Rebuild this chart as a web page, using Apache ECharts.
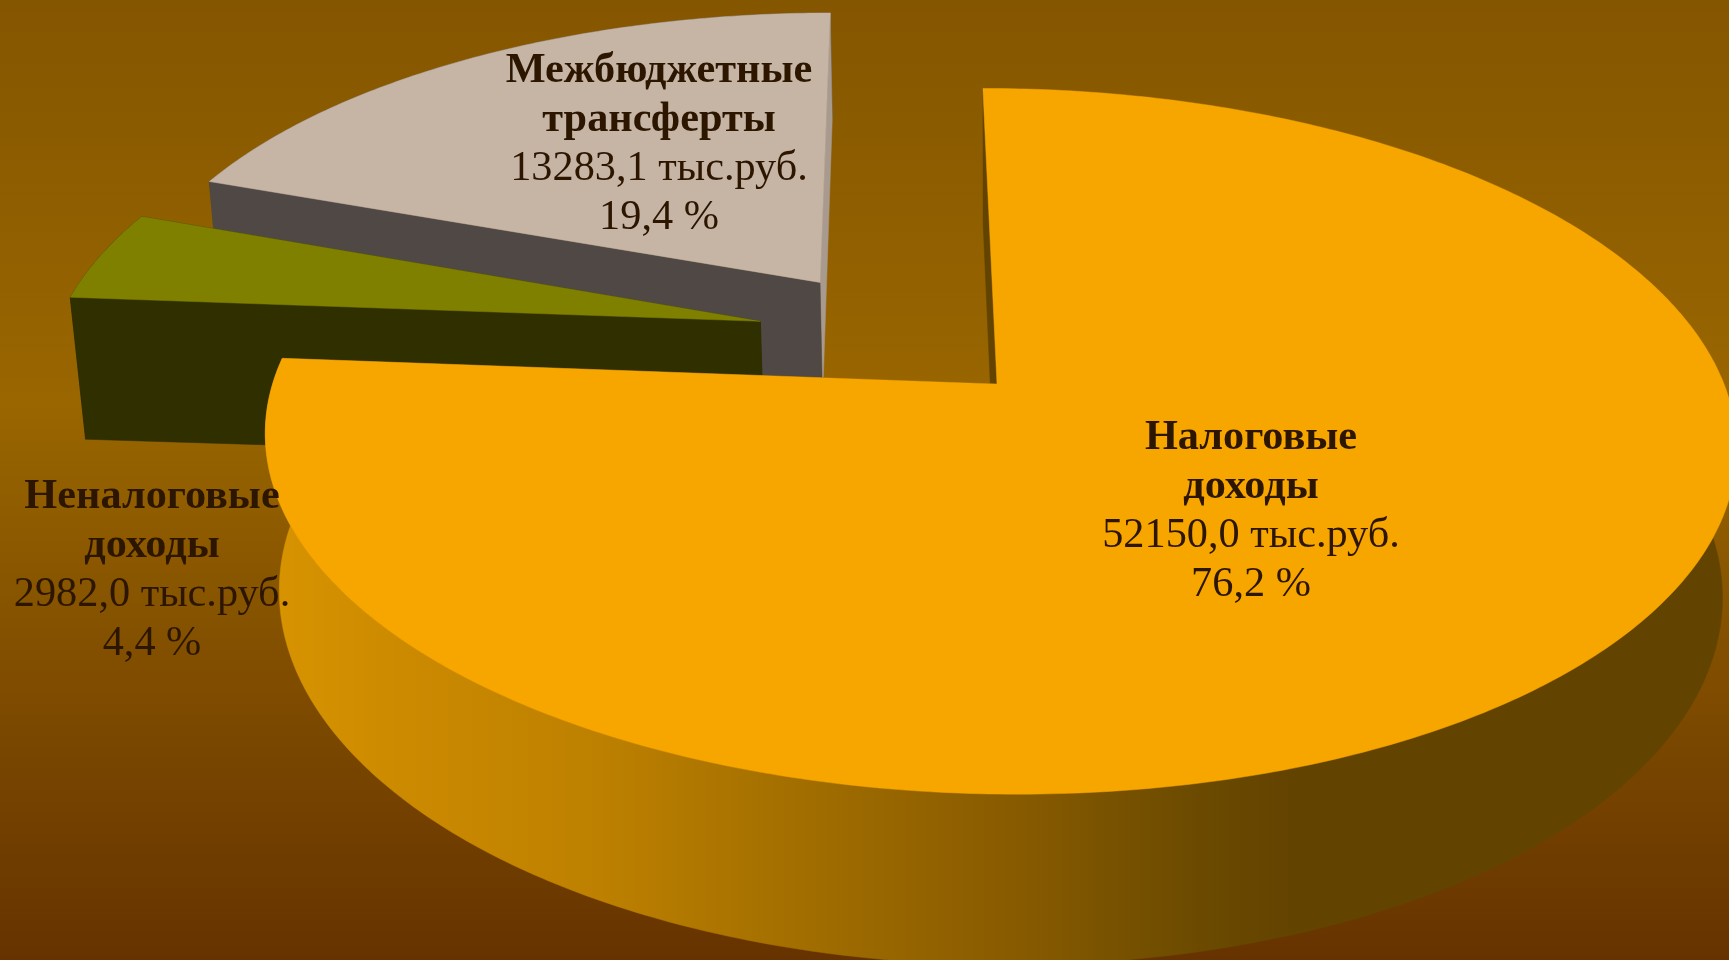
<!DOCTYPE html>
<html><head><meta charset="utf-8">
<style>html,body{margin:0;padding:0;overflow:hidden;background:#855600}#c{width:1729px;height:960px}</style>
<script src="https://cdn.jsdelivr.net/npm/echarts@6/dist/echarts.min.js"></script>
</head><body><div id="c"></div>
<script>
// DATA
const categoryLines = [['Налоговые','доходы'],['Неналоговые','доходы'],['Межбюджетные','трансферты']];
const values = [52150.0, 2982.0, 13283.1];
const unit = 'тыс.руб.';

// STYLE / LAYOUT
const topColors = ['#f7a600','#808000','#c6b5a5'];
const startWallColors = ['#634300','#2f2f00','#4f4845'];
const endWallColors = ['#634300','#2f2f00','#a89a8e'];
const explode = [[0,0],[-0.33,-0.192],[-0.246,-0.3137]];   // ground-plane offset of each slice
const heights = [1,0.93,0.8];                               // wall height of each slice
const labelCenters = [[1251,438],[152,497],[659,71]];
const startAngleDeg = 0.6;
const cam = {cx:997, cy:384, R:725.5, P:24, Q:-4, U:-5, S:343.5, T:154, k:0.1625, m:0.019};
const total = values.reduce((a,b)=>a+b,0);

function project(X,Z,Y){
  const w = 1 - cam.k*Z + cam.m*Y;
  return [cam.cx + (cam.R*X + cam.P*Z)/w, cam.cy + (cam.S*Z + cam.Q*X + cam.U*X*Y + cam.T*Y)/w];
}
const spans = []; let acc = startAngleDeg;
values.forEach(v=>{const d=v/total*360; spans.push([acc,acc+d]); acc+=d;});
function rim(i,deg,Y){
  const a=deg*Math.PI/180, o=explode[i];
  return project(o[0]+Math.sin(a), o[1]-Math.cos(a), Y*heights[i]);
}
function apex(i,Y){return project(explode[i][0],explode[i][1],Y*heights[i]);}
function arc(i,Y){
  const [a,b]=spans[i], n=Math.max(24,Math.round((b-a)*1.5)), pts=[];
  for(let j=0;j<=n;j++) pts.push(rim(i,a+(b-a)*j/n,Y));
  return pts;
}
function wallFill(i){
  if(i!==0) return startWallColors[i];
  const x0=265, span=1464, at=x=>(x-x0)/span;
  return new echarts.graphic.LinearGradient(x0,0,x0+span,0,[
    {offset:0,color:'#d89400'},{offset:at(400),color:'#cc8a00'},{offset:at(600),color:'#bd8000'},
    {offset:at(800),color:'#a26e00'},{offset:at(1000),color:'#8a5c00'},{offset:at(1200),color:'#6b4a00'},
    {offset:at(1290),color:'#634300'},{offset:1,color:'#634300'}],true);
}
function renderSlice(params,api){
  const i=api.value(0);
  const poly=(points,fill)=>({type:'polygon',shape:{points},style:{fill,stroke:fill,lineWidth:0.5}});
  const topArc=arc(i,0), botArc=arc(i,1).reverse();
  const [a,b]=spans[i];
  return {type:'group',children:[
    poly(topArc.concat(botArc),wallFill(i)),
    poly([apex(i,0),rim(i,b,0),rim(i,b,1),apex(i,1)],endWallColors[i]),
    poly([apex(i,0),rim(i,a,0),rim(i,a,1),apex(i,1)],startWallColors[i]),
    poly([apex(i,0)].concat(topArc),topColors[i])
  ]};
}
const LH=48.8, FS=42.3, FF='"Liberation Serif","Times New Roman",serif', TXT='#2d1600';
function renderLabel(params,api){
  const i=api.value(0), c=labelCenters[i];
  const lines=[
    {t:categoryLines[i][0],w:'bold'},{t:categoryLines[i][1],w:'bold'},
    {t:values[i].toFixed(1).replace('.',',')+' '+unit,w:'normal'},
    {t:(values[i]/total*100).toFixed(1).replace('.',',')+' %',w:'normal'}];
  return {type:'group',children:lines.map((l,j)=>({type:'text',style:{
    text:l.t,x:c[0],y:c[1]+j*LH,align:'center',verticalAlign:'middle',
    font:l.w+' '+FS+'px '+FF,fill:TXT}}))};
}
const chart=echarts.init(document.getElementById('c'),null,{renderer:'canvas'});
chart.setOption({
  animation:false,
  backgroundColor:new echarts.graphic.LinearGradient(0,0,0,1,[
    {offset:0,color:'#855600'},{offset:0.42,color:'#996600'},{offset:1,color:'#663300'}]),
  xAxis:{show:false},yAxis:{show:false},
  series:[
    {type:'custom',name:'Доходы',coordinateSystem:'none',renderItem:renderSlice,silent:true,
     data:[2,1,0].map(i=>({name:categoryLines[i].join(' '),value:[i,values[i]]}))},
    {type:'custom',name:'Подписи',coordinateSystem:'none',renderItem:renderLabel,silent:true,z:5,
     data:[0,1,2].map(i=>({name:categoryLines[i].join(' '),value:[i,values[i]]}))}
  ]
});
</script></body></html>
